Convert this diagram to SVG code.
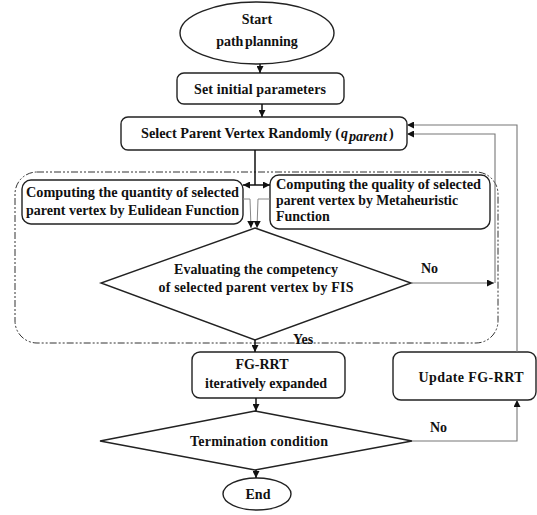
<svg xmlns="http://www.w3.org/2000/svg" width="537" height="515" viewBox="0 0 537 515">
<defs>
<style>
.t{font-family:"Liberation Serif","Times New Roman",serif;font-weight:bold;font-size:14px;fill:#111}
.b{fill:#fff;stroke:#222;stroke-width:1.4}
.c{fill:none;stroke:#111;stroke-width:1.5}
.g{fill:none;stroke:#777;stroke-width:1.1}
.gt{fill:none;stroke:#888;stroke-width:1}
</style>
<marker id="ah" viewBox="0 0 10 10" refX="10" refY="5" markerWidth="7" markerHeight="7" markerUnits="userSpaceOnUse" orient="auto">
<path d="M0,0 L10,5 L0,10 z" fill="#111"/>
</marker>
</defs>
<rect width="537" height="515" fill="#fff"/>
<rect x="15" y="172" width="483" height="171" rx="22" fill="none" stroke="#333" stroke-width="1" stroke-dasharray="7 2 2 2 2 2"/>
<g id="start"><ellipse class="b" cx="257" cy="33" rx="77" ry="31"/><text class="t" x="257" y="24" text-anchor="middle">Start</text><text class="t" x="257" y="46" text-anchor="middle" word-spacing="-2">path planning</text></g>
<g id="init"><rect class="b" x="177" y="73" width="167" height="31" rx="7"/><text class="t" x="260" y="94" text-anchor="middle" textLength="132">Set initial parameters</text></g>
<g id="select"><rect class="b" x="121" y="117" width="286" height="33" rx="7"/><text class="t" x="141" y="138" textLength="199" lengthAdjust="spacingAndGlyphs">Select Parent Vertex Randomly (</text><text class="t" x="341" y="138" font-style="italic" font-size="16">q</text><text class="t" x="349" y="141" font-style="italic" font-size="12" textLength="38" lengthAdjust="spacingAndGlyphs">parent</text><text class="t" x="389" y="138">)</text></g>
<g id="quantity"><rect class="b" x="22" y="180" width="221" height="44" rx="9"/><text class="t" x="26" y="197" textLength="213" lengthAdjust="spacingAndGlyphs">Computing the quantity of  selected</text><text class="t" x="26" y="215" textLength="213" lengthAdjust="spacingAndGlyphs">parent vertex by Eulidean  Function</text></g>
<g id="quality"><rect class="b" x="270" y="175" width="220" height="54" rx="9"/><text class="t" x="276" y="189" textLength="205" lengthAdjust="spacingAndGlyphs">Computing the quality of  selected</text><text class="t" x="276" y="205" textLength="182" lengthAdjust="spacingAndGlyphs">parent vertex by Metaheuristic</text><text class="t" x="276" y="221">Function</text></g>
<g id="fis"><polygon class="b" points="255,228 411,283 255,340 101,283"/><text class="t" x="256" y="274" text-anchor="middle" textLength="164">Evaluating the competency</text><text class="t" x="256" y="292" text-anchor="middle" textLength="195">of selected parent vertex by FIS</text></g>
<g id="fgrrt"><rect class="b" x="192" y="352" width="153" height="46" rx="8"/><text class="t" x="262" y="369" text-anchor="middle">FG-RRT</text><text class="t" x="266" y="388" text-anchor="middle" textLength="122">iteratively expanded</text></g>
<g id="update"><rect class="b" x="393" y="352" width="143" height="48" rx="8"/><text class="t" x="471" y="382" text-anchor="middle" textLength="105">Update FG-RRT</text></g>
<g id="term"><polygon class="b" points="255,411 412,441 255,470 100,441"/><text class="t" x="259" y="446" text-anchor="middle" textLength="138">Termination condition</text></g>
<g id="end"><ellipse class="b" cx="257" cy="494" rx="34" ry="16"/><text class="t" x="258" y="499" text-anchor="middle">End</text></g>
<g id="connectors">
<line class="c" x1="260" y1="64" x2="260" y2="73" marker-end="url(#ah)"/>
<line class="c" x1="262" y1="104" x2="262" y2="117" marker-end="url(#ah)"/>
<line class="c" x1="255" y1="150" x2="255" y2="185"/>
<line class="c" x1="255" y1="185" x2="243" y2="185" marker-end="url(#ah)"/>
<line class="c" x1="255" y1="185" x2="270" y2="185" marker-end="url(#ah)"/>
<polyline class="gt" points="243,199 250,199 251,228" marker-end="url(#ah)"/>
<polyline class="gt" points="270,199 258,199 257,228" marker-end="url(#ah)"/>
<line class="g" x1="411" y1="283" x2="494" y2="283" marker-end="url(#ah)"/>
<polyline class="g" points="495,283 495,134 407,134" marker-end="url(#ah)"/>
<polyline class="g" points="517,352 517,125 407,125" marker-end="url(#ah)"/>
<line class="c" x1="255" y1="340" x2="255" y2="352" marker-end="url(#ah)"/>
<line class="c" x1="256" y1="398" x2="256" y2="411" marker-end="url(#ah)"/>
<polyline class="g" points="412,441 517,441 517,400" marker-end="url(#ah)"/>
<line class="c" x1="256" y1="470" x2="256" y2="478" marker-end="url(#ah)"/>
<text class="t" x="421" y="273">No</text>
<text class="t" x="293" y="344">Yes</text>
<text class="t" x="430" y="432">No</text>
</g>
</svg>
